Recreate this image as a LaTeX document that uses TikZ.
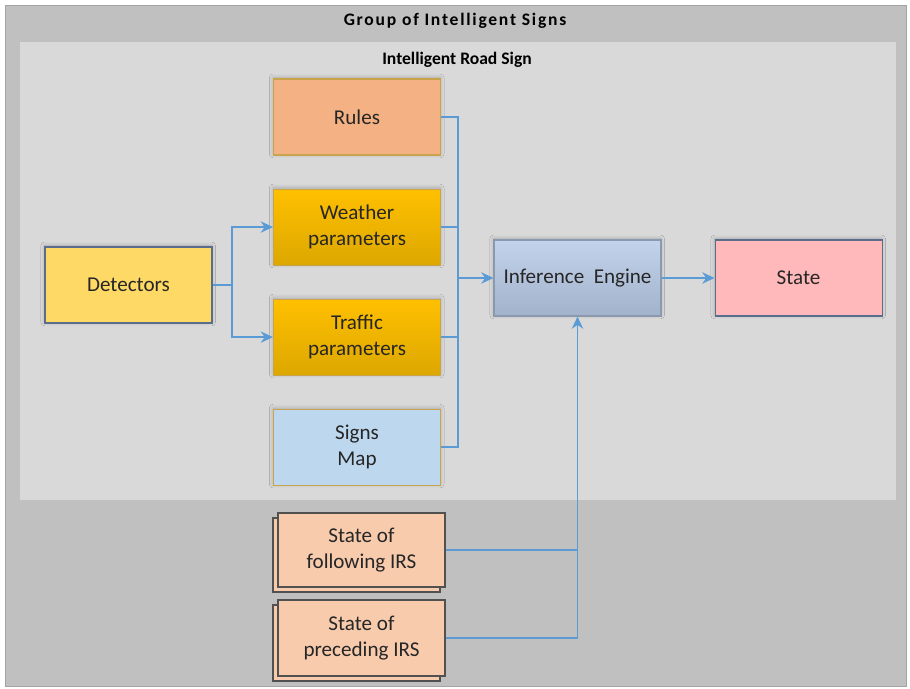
\documentclass[tikz,border=0pt]{standalone}
\usepackage{fontspec}
\setmainfont{Carlito}
\usetikzlibrary{arrows.meta, positioning, shadows, shadows.blur}

\definecolor{groupbg}{HTML}{C0C0C0}
\definecolor{signbg}{HTML}{D9D9D9}
\definecolor{rulesfill}{HTML}{F4B183}
\definecolor{paramtop}{HTML}{FFC000}
\definecolor{parambot}{HTML}{DCA700}
\definecolor{mapfill}{HTML}{BDD7EE}
\definecolor{detfill}{HTML}{FFD966}
\definecolor{inftop}{HTML}{C3D3EC}
\definecolor{infbot}{HTML}{A3B2CB}
\definecolor{statefill}{HTML}{FFB9BA}
\definecolor{irsfill}{HTML}{F8CBAD}
\definecolor{goldline}{HTML}{C9A44A}
\definecolor{slate}{HTML}{5A6E8C}
\definecolor{wire}{HTML}{5B9BD5}
\definecolor{ink}{HTML}{262626}

\begin{document}
\begin{tikzpicture}[
    node distance=0.66cm,
    block/.style={draw=goldline, line width=0.6pt, minimum width=3.34cm, minimum height=1.52cm,
        align=center, text=ink, font=\fontsize{12}{14.5}\selectfont,
        blur shadow={shadow xshift=-0.2pt, shadow yshift=0.6pt, shadow opacity=22,
            shadow blur radius=2.2pt, shadow blur steps=8}},
    irsblock/.style={draw=ink!80, line width=0.6pt, fill=irsfill, minimum width=3.34cm,
        align=center, text=ink, font=\fontsize{12}{14.5}\selectfont,
        copy shadow={shadow xshift=-0.1cm, shadow yshift=-0.1cm}},
    wireline/.style={draw=wire, line width=0.85pt},
    wirearrow/.style={wireline, -{Stealth[length=7pt, width=6.5pt]}}
]

    % frames
    \useasboundingbox (0,0) rectangle (18.2,-13.78);
    \fill[white] (0,0) rectangle (18.2,-13.78);
    \draw[fill=groupbg, draw=groupbg!85!black, line width=0.4pt] (0.1,-0.1) rectangle (18.12,-13.72);
    \fill[signbg] (0.4,-0.84) rectangle (17.92,-10.0);
    \node (gtitle) at (9.1,-0.42) {\fontsize{10}{12}\selectfont\bfseries\addfontfeature{LetterSpace=10}Group of Intelligent Signs};
    \node (stitle) at (9.14,-1.20) {\fontsize{10}{12}\selectfont\bfseries Intelligent Road Sign};

    % inputs of the sign
    \node[block, fill=rulesfill] (rul) at (7.14,-2.34) {Rules};
    \node[block, top color=paramtop, bottom color=parambot, below=of rul] (wea) {Weather\\parameters};
    \node[block, top color=paramtop, bottom color=parambot, below=of wea] (tra) {Traffic\\parameters};
    \node[block, fill=mapfill, below=of tra] (map) {Signs\\Map};
    \node[block, fill=detfill, draw=slate] (det) at (2.57,-5.70) {Detectors};

    % engine and output
    \node[block, top color=inftop, bottom color=infbot, draw=slate!70] (inf) at (11.55,-5.56) {Inference~ Engine};
    \node[block, fill=statefill, draw=slate, right=1.06cm of inf] (sta) {State};

    % neighbouring signs
    \node[irsblock, minimum height=1.48cm] (fol) at (7.23,-11.0) {State of\\following IRS};
    \node[irsblock, minimum height=1.52cm] (pre) at (7.23,-12.76) {State of\\preceding IRS};

    % connections
    \coordinate (dj) at (4.64,-5.70);
    \coordinate (mj) at (9.16,-5.56);
    \draw[wireline] (det.east) -- (dj);
    \draw[wirearrow] (dj) |- (wea.west);
    \draw[wirearrow] (dj) |- (tra.west);
    \draw[wireline] (rul.east) -| (mj);
    \draw[wireline] (wea.east) -| (mj);
    \draw[wireline] (tra.east) -| (mj);
    \draw[wireline] (map.east) -| (mj);
    \draw[wirearrow] (mj) -- (inf.west);
    \draw[wirearrow] (inf.east) -- (sta.west);
    \draw[wireline] (pre.east) -| (fol.east -| inf.south);
    \draw[wirearrow] (fol.east) -| (inf.south);

\end{tikzpicture}
\end{document}
